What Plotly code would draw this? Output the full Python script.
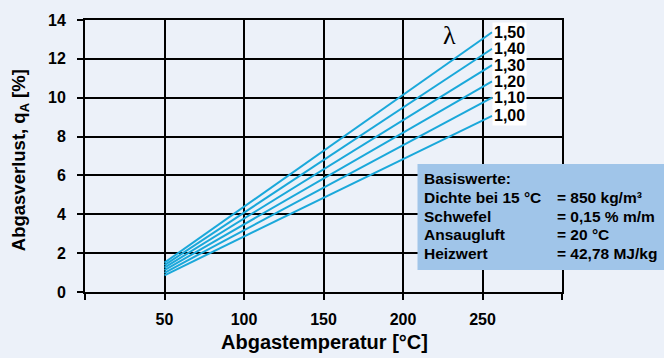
import plotly.graph_objects as go

# ---- data ----
lambdas = ["1,00", "1,10", "1,20", "1,30", "1,40", "1,50"]
x_start = 50
x_end = 256
q_start = [0.86, 0.99, 1.12, 1.25, 1.38, 1.51]
q_end = [9.07, 10.0, 10.84, 11.68, 12.52, 13.37]

x_ticks = [50, 100, 150, 200, 250]
y_ticks = [0, 2, 4, 6, 8, 10, 12, 14]

info_labels = ["Basiswerte:", "Dichte bei 15 °C", "Schwefel", "Ansaugluft", "Heizwert"]
info_values = ["", "= 850 kg/m³", "= 0,15 % m/m", "= 20 °C", "= 42,78 MJ/kg"]

BG = "#ECF1F9"
LINE = "#1AA8DA"
FONT = "Liberation Sans, Arial, sans-serif"

fig = go.Figure()
for lab, q0, q1 in zip(lambdas, q_start, q_end):
    fig.add_trace(go.Scatter(x=[x_start, x_end], y=[q0, q1], mode="lines",
                             line=dict(color=LINE, width=2), showlegend=False,
                             hoverinfo="skip"))
    fig.add_annotation(x=x_end, y=q1, xref="x", yref="y", text=lab,
                       showarrow=False, xanchor="left", yanchor="middle",
                       bgcolor="white", borderpad=1,
                       font=dict(family=FONT, size=16, color="black", weight="bold"))

fig.add_annotation(x=229.5, y=13.2, xref="x", yref="y", text="λ", showarrow=False,
                   font=dict(family="Liberation Serif, serif", size=26, color="black"))

# info box
L, R, T, B = 85.0, 562.0, 15.0, 292.5
def px2paper_x(px):
    return (px - L) / (R - L)
def py2paper_y(py):
    return (B - py) / (B - T)

fig.add_shape(type="rect", xref="paper", yref="paper",
              x0=px2paper_x(417.5), x1=px2paper_x(664), y0=py2paper_y(270), y1=py2paper_y(162),
              fillcolor="#A0C5E9", line=dict(width=0), layer="above")
row_py = [176.7, 196, 215, 234, 253]
for lab, val, py in zip(info_labels, info_values, row_py):
    fig.add_annotation(x=px2paper_x(421.5), y=py2paper_y(py), xref="paper", yref="paper",
                       text=lab, showarrow=False, xanchor="left", yanchor="middle",
                       font=dict(family=FONT, size=15.5, color="black", weight="bold"))
    if val:
        fig.add_annotation(x=px2paper_x(555), y=py2paper_y(py), xref="paper", yref="paper",
                           text=val, showarrow=False, xanchor="left", yanchor="middle",
                           font=dict(family=FONT, size=15.5, color="black", weight="bold"))

# axis titles
fig.add_annotation(x=px2paper_x(324), y=py2paper_y(344), xref="paper", yref="paper",
                   text="Abgastemperatur [°C]", showarrow=False, yanchor="middle",
                   font=dict(family=FONT, size=20, color="black", weight="bold"))
fig.add_annotation(x=px2paper_x(20), y=py2paper_y(158), xref="paper", yref="paper",
                   text="Abgasverlust, q<sub>A</sub> [%]", showarrow=False, textangle=-90,
                   xanchor="center", yanchor="middle",
                   font=dict(family=FONT, size=18.5, color="black", weight="bold"))

fig.update_xaxes(range=[0, 300], tickvals=x_ticks,
                 showgrid=True, gridcolor="black", gridwidth=2,
                 showline=True, linecolor="black", linewidth=2, mirror=True,
                 ticks="outside", ticklen=6, tickwidth=2, tickcolor="black",
                 minor=dict(ticks="outside", ticklen=6, tickwidth=2, tickcolor="black",
                            tick0=0, dtick=50, showgrid=False),
                 zeroline=False, ticklabelstandoff=6,
                 tickfont=dict(family=FONT, size=16, color="black", weight="bold"))
fig.update_yaxes(range=[0, 14], tickvals=y_ticks,
                 showgrid=True, gridcolor="black", gridwidth=2,
                 showline=True, linecolor="black", linewidth=2, mirror=True,
                 ticks="outside", ticklen=6, tickwidth=2, tickcolor="black",
                 zeroline=False, ticklabelstandoff=8,
                 tickfont=dict(family=FONT, size=16, color="black", weight="bold"))

fig.update_layout(width=664, height=358, paper_bgcolor=BG, plot_bgcolor=BG,
                  margin=dict(l=85, r=102, t=15, b=65.5), showlegend=False)

fig.write_html("out.html", config={"displayModeBar": False},
               post_script="document.body.style.margin='0';document.body.style.padding='0';document.body.style.overflow='hidden';")
